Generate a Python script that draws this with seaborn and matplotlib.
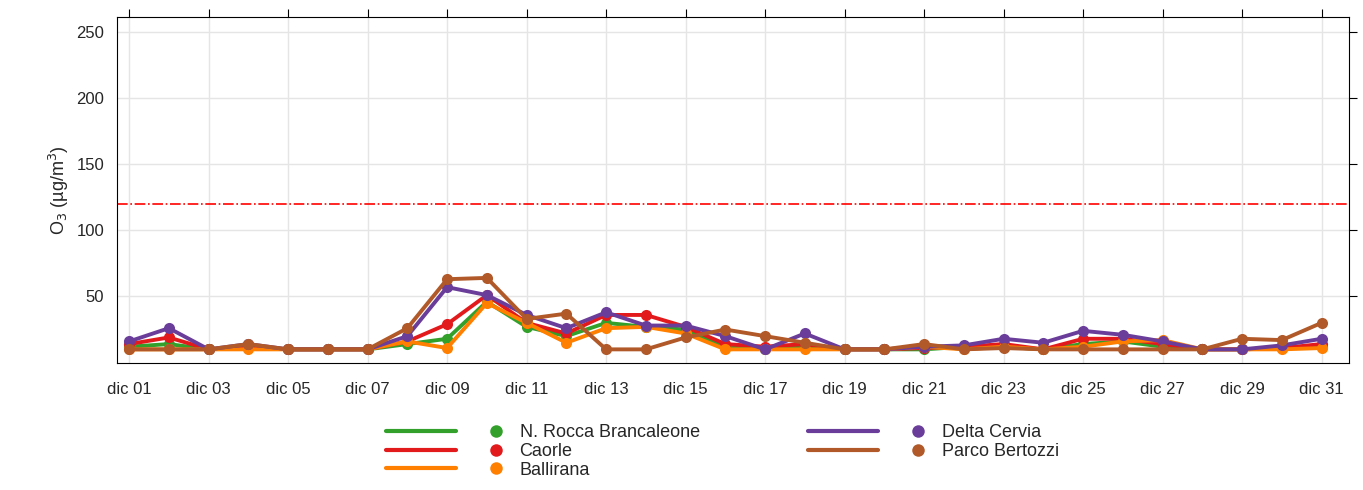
import matplotlib.pyplot as plt
import pandas as pd
import seaborn as sns
from matplotlib.lines import Line2D
from matplotlib.legend_handler import HandlerTuple

days = list(range(1, 32))
rocca = [12,14,10,12,10,10,10,14,18,46,27,20,30,27,25,12,10,12,10,10,10,12,12,10,14,16,12,10,10,11,12]
caorle = [14,19,10,12,10,10,10,16,29,51,30,22,36,36,27,14,12,14,10,10,11,12,14,10,18,18,14,10,10,11,14]
ballirana = [10,10,10,10,10,10,10,16,11,45,30,15,26,27,22,10,10,10,10,10,12,10,12,10,12,16,17,10,10,10,11]
cervia = [16,26,10,14,10,10,10,20,57,51,36,26,38,28,28,20,10,22,10,10,12,13,18,15,24,21,16,10,10,13,18]
bertozzi = [10,10,10,14,10,10,10,26,63,64,33,37,10,10,19,25,20,15,10,10,14,10,11,10,10,10,10,10,18,17,30]
names = ["N. Rocca Brancaleone", "Caorle", "Ballirana", "Delta Cervia", "Parco Bertozzi"]
colors = ["#33a02c", "#e31a1c", "#ff7f00", "#6a3d9a", "#b15928"]
limit = 120

df = pd.DataFrame({"day": days * 5,
                   "value": rocca + caorle + ballirana + cervia + bertozzi,
                   "station": sum([[n] * 31 for n in names], [])})

sns.set_style("white")
plt.rcParams['font.family'] = ['Liberation Sans', 'DejaVu Sans']
fig, ax = plt.subplots(figsize=(13.63, 4.9), dpi=100)
fig.subplots_adjust(left=0.086, right=0.99, top=0.965, bottom=0.26)

sns.lineplot(data=df, x="day", y="value", hue="station", palette=colors,
             marker="o", markersize=8, markeredgewidth=0, linewidth=2.8,
             ax=ax, legend=False)
ax.axhline(limit, color="red", linestyle="-.", linewidth=1.2)

ax.set_xlim(0.7, 31.7)
ax.set_ylim(0, 261)
ticks = list(range(1, 32, 2))
ax.set_xticks(ticks)
ax.set_xticklabels([f"dic {d:02d}" for d in ticks], fontsize=12)
ax.set_yticks([50, 100, 150, 200, 250])
ax.tick_params(axis="y", labelsize=12)
ax.tick_params(axis="x", pad=8)
ax.tick_params(direction="out", length=6, top=True, right=True, color="black")
ax.grid(True, color="#e5e5e5", linewidth=1)
for s in ax.spines.values():
    s.set_color("black")
ax.set_xlabel("")
ax.set_ylabel("O$_3$ (µg/m$^3$)", fontsize=13)

handles = [(Line2D([], [], color=c, linewidth=3),
            Line2D([], [], color=c, linestyle="", marker="o", markersize=9, markeredgewidth=0))
           for c in colors]
leg = fig.legend(handles, names, loc="lower center", ncol=2, frameon=False,
                 fontsize=13, bbox_to_anchor=(0.53, -0.01), handlelength=8,
                 labelspacing=0.1, columnspacing=6, handletextpad=-0.6,
                 handler_map={tuple: HandlerTuple(ndivide=None, pad=0.3)})
plt.savefig("out.png")
